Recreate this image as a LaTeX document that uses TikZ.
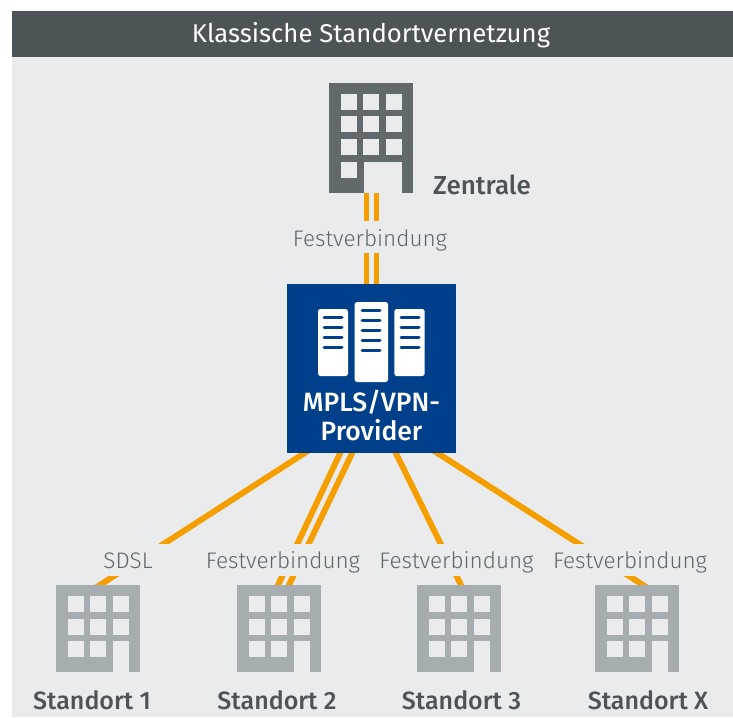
\documentclass[tikz,border=0pt]{standalone}
\usepackage{fontspec}
\setmainfont{Fira Sans}
\newfontfamily\lightfont{Fira Sans Light}
\newfontfamily\medfont{Fira Sans Medium}
\usetikzlibrary{calc}
\definecolor{bgc}{HTML}{EAEBED}
\definecolor{headc}{HTML}{4D5457}
\definecolor{darkb}{HTML}{62696C}
\definecolor{lightb}{HTML}{A6ADB0}
\definecolor{orangec}{HTML}{F59E00}
\definecolor{bluec}{HTML}{00408A}
\definecolor{labc}{HTML}{5F676B}
\pgfdeclarelayer{backl}
\pgfdeclarelayer{midl}
\pgfsetlayers{backl,midl,main}
\tikzset{
  bldg/.style={rectangle,inner sep=0pt,outer sep=0pt,anchor=north west,minimum width=84pt},
  win/.style={fill=bgc},
  link/.style={draw=orangec,line width=5.9pt,shorten <=-9pt,shorten >=-9pt},
  lab/.style={fill=bgc,text=labc,font=\lightfont\fontsize{22.5}{25}\selectfont,inner ysep=0pt,inner xsep=0pt,text height=25.2pt,text depth=7pt,anchor=base,outer sep=0pt},
  sitename/.style={text=headc,font=\medfont\fontsize{25}{28}\selectfont,inner sep=0pt,anchor=base},
  provname/.style={text=white,font=\medfont\fontsize{26.5}{29}\selectfont,inner sep=0pt,anchor=base},
  srv/.style={fill=white,rounded corners=2.5pt},
  srvbar/.style={draw=bluec,line width=3pt,line cap=round}
}
\newcommand{\wnd}[3]{\fill[win] ([shift={(#2,#3)}]#1.north west) rectangle ++(16,16);}
\newcommand{\site}[3]{%
  \node[bldg,fill=lightb,minimum height=87pt] (#1) at (#2,#3) {};
  \wnd{#1}{12}{11}\wnd{#1}{34}{11}\wnd{#1}{57}{11}
  \wnd{#1}{12}{34}\wnd{#1}{34}{34}\wnd{#1}{57}{34}
  \wnd{#1}{12}{56}\wnd{#1}{34}{56}
  \fill[win] ([shift={(57,56)}]#1.north west) rectangle ([shift={(73,87)}]#1.north west);
}
\begin{document}
\begin{tikzpicture}[x=1pt,y=-1pt]
\useasboundingbox (0,0) rectangle (733,717);
\begin{pgfonlayer}{backl}
  \fill[bgc] (12,57) rectangle (733,717);
\end{pgfonlayer}
\node[rectangle,fill=headc,minimum width=721pt,minimum height=46pt,inner sep=0pt,anchor=north west] (head) at (12,11) {};
\node[text=white,font=\fontsize{25.7}{28}\selectfont,inner sep=0pt,anchor=base] (title) at (371,42.7) {Klassische Standortvernetzung};

% central site
\node[bldg,fill=darkb,minimum height=110pt] (zen) at (329,83) {};
\foreach \yy in {11,32.7,56}{\foreach \xx in {12,34,57}{\wnd{zen}{\xx}{\yy}}}
\wnd{zen}{12}{79}
\fill[win] ([shift={(35,79)}]zen.north west) rectangle ([shift={(73,110)}]zen.north west);

% provider
\node[rectangle,fill=bluec,minimum width=169pt,minimum height=169pt,inner sep=0pt,anchor=north west] (prov) at (287,284) {};
\fill[srv] (318,309) rectangle (348,376);
\fill[srv] (354.7,302) rectangle (388,382);
\fill[srv] (394.3,309) rectangle (424.7,376);
\foreach \yy in {317.3,327.3,337.3,347.3}{
  \draw[srvbar] (324,\yy) -- (342,\yy);
  \draw[srvbar] (401,\yy) -- (419,\yy);
}
\foreach \yy in {310.7,320.7,330.7,340.7,350.7}{\draw[srvbar] (362,\yy) -- (380,\yy);}
\node[provname] (mpls) at (371.5,411) {MPLS/VPN-};
\node[provname] (provt) at (371.5,440) {Provider};

% sites
\site{sa}{56}{585}
\site{sb}{237}{585}
\site{sc}{417}{585}
\site{sd}{595}{585}

% connectors
\begin{pgfonlayer}{midl}
  \draw[link] ([xshift=37.5pt]zen.south west) -- ([xshift=79.5pt]prov.north west);
  \draw[link] ([xshift=47.5pt]zen.south west) -- ([xshift=89.5pt]prov.north west);
  \draw[link] ([xshift=17pt]prov.south west) -- ([xshift=44pt]sa.north west);
  \draw[link] ([xshift=53pt]prov.south west) -- ([xshift=41pt]sb.north west);
  \draw[link] ([xshift=65pt]prov.south west) -- ([xshift=52pt]sb.north west);
  \draw[link] ([xshift=109pt]prov.south west) -- ([xshift=44pt]sc.north west);
  \draw[link] ([xshift=151pt]prov.south west) -- ([xshift=48pt]sd.north west);
\end{pgfonlayer}

% connector labels
\node[lab,minimum width=160pt] (l0) at (370,246.2) {Festverbindung};
\node[lab,minimum width=100pt] (l1) at (128,568.7) {SDSL};
\node[lab,minimum width=158pt] (l2) at (283,568.7) {Festverbindung};
\node[lab,minimum width=158pt] (l3) at (456.5,568.7) {Festverbindung};
\node[lab,minimum width=158pt] (l4) at (630,568.7) {Festverbindung};

% names
\node[sitename,anchor=base west,font=\medfont\fontsize{26}{28}\selectfont] (nz) at (433,194) {Zentrale};
\node[sitename] (na) at (92,709.3) {Standort 1};
\node[sitename] (nb) at (277,709.3) {Standort 2};
\node[sitename] (nc) at (461.5,709.3) {Standort 3};
\node[sitename] (nd) at (648,709.3) {Standort X};
\end{tikzpicture}
\end{document}
